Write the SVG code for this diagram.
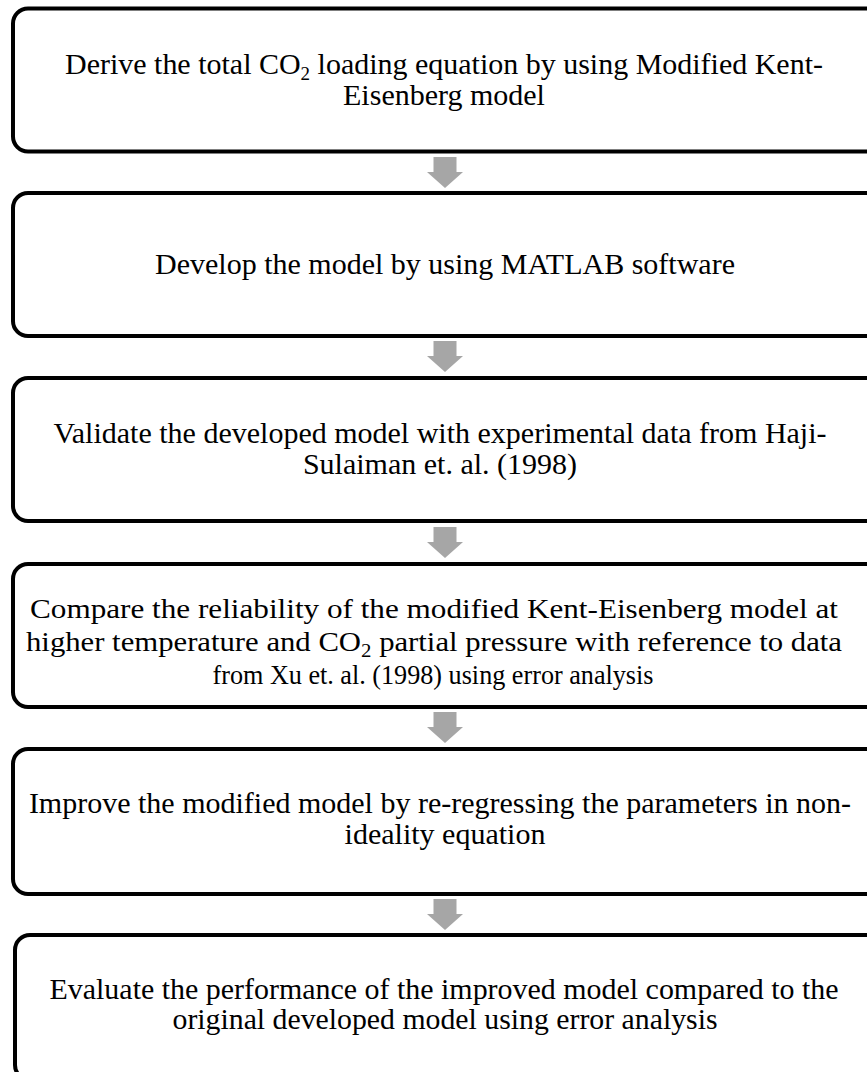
<svg xmlns="http://www.w3.org/2000/svg" width="867" height="1072" viewBox="0 0 867 1072">
<style>
.box{fill:#fff;stroke:#000;stroke-width:4}
.t{font-family:"Liberation Serif","Times New Roman",serif;font-size:30px;fill:#000;text-anchor:middle}
.c{font-size:28px}
.s{font-size:19px}
.arr{fill:#a6a6a6}
</style>
<defs>
<path id="arrow" d="M-11.5,0 H11.5 V15 H18 L0,31 L-18,15 H-11.5 Z"/>
</defs>
<rect width="867" height="1072" fill="#fff"/>
<g id="connectors">
<use href="#arrow" class="arr" x="445" y="157"/>
<use href="#arrow" class="arr" x="445" y="341"/>
<use href="#arrow" class="arr" x="445" y="527"/>
<use href="#arrow" class="arr" x="445" y="712"/>
<use href="#arrow" class="arr" x="445" y="899"/>
</g>
<g id="n1">
<rect class="box" x="13" y="8.5" width="880" height="143" rx="15"/>
<text class="t" x="444" y="74" textLength="758" lengthAdjust="spacingAndGlyphs">Derive the total CO<tspan class="s" dy="6">2</tspan><tspan dy="-6"> loading equation by using Modified Kent-</tspan></text>
<text class="t" x="444" y="105">Eisenberg model</text>
</g>
<g id="n2">
<rect class="box" x="13" y="193" width="880" height="143" rx="15"/>
<text class="t" x="445" y="274">Develop the model by using MATLAB software</text>
</g>
<g id="n3">
<rect class="box" x="13" y="378" width="880" height="143" rx="15"/>
<text class="t" x="440" y="443">Validate the developed model with experimental data from Haji-</text>
<text class="t" x="440" y="474">Sulaiman et. al. (1998)</text>
</g>
<g id="n4">
<rect class="box" x="13" y="564" width="880" height="143" rx="15"/>
<text class="t c" x="434" y="618" textLength="808" lengthAdjust="spacingAndGlyphs">Compare the reliability of the modified Kent-Eisenberg model at</text>
<text class="t c" x="434" y="651" textLength="816" lengthAdjust="spacingAndGlyphs">higher temperature and CO<tspan class="s" dy="6">2</tspan><tspan dy="-6"> partial pressure with reference to data</tspan></text>
<text class="t c" x="433" y="684" textLength="441" lengthAdjust="spacingAndGlyphs">from Xu et. al. (1998) using error analysis</text>
</g>
<g id="n5">
<rect class="box" x="13" y="749" width="880" height="145" rx="15"/>
<text class="t" x="440" y="813">Improve the modified model by re-regressing the parameters in non-</text>
<text class="t" x="445" y="844">ideality equation</text>
</g>
<g id="n6">
<rect class="box" x="15" y="935" width="880" height="145" rx="15"/>
<text class="t" x="444" y="999" textLength="789" lengthAdjust="spacingAndGlyphs">Evaluate the performance of the improved model compared to the</text>
<text class="t" x="445" y="1029" textLength="545" lengthAdjust="spacingAndGlyphs">original developed model using error analysis</text>
</g>
</svg>
